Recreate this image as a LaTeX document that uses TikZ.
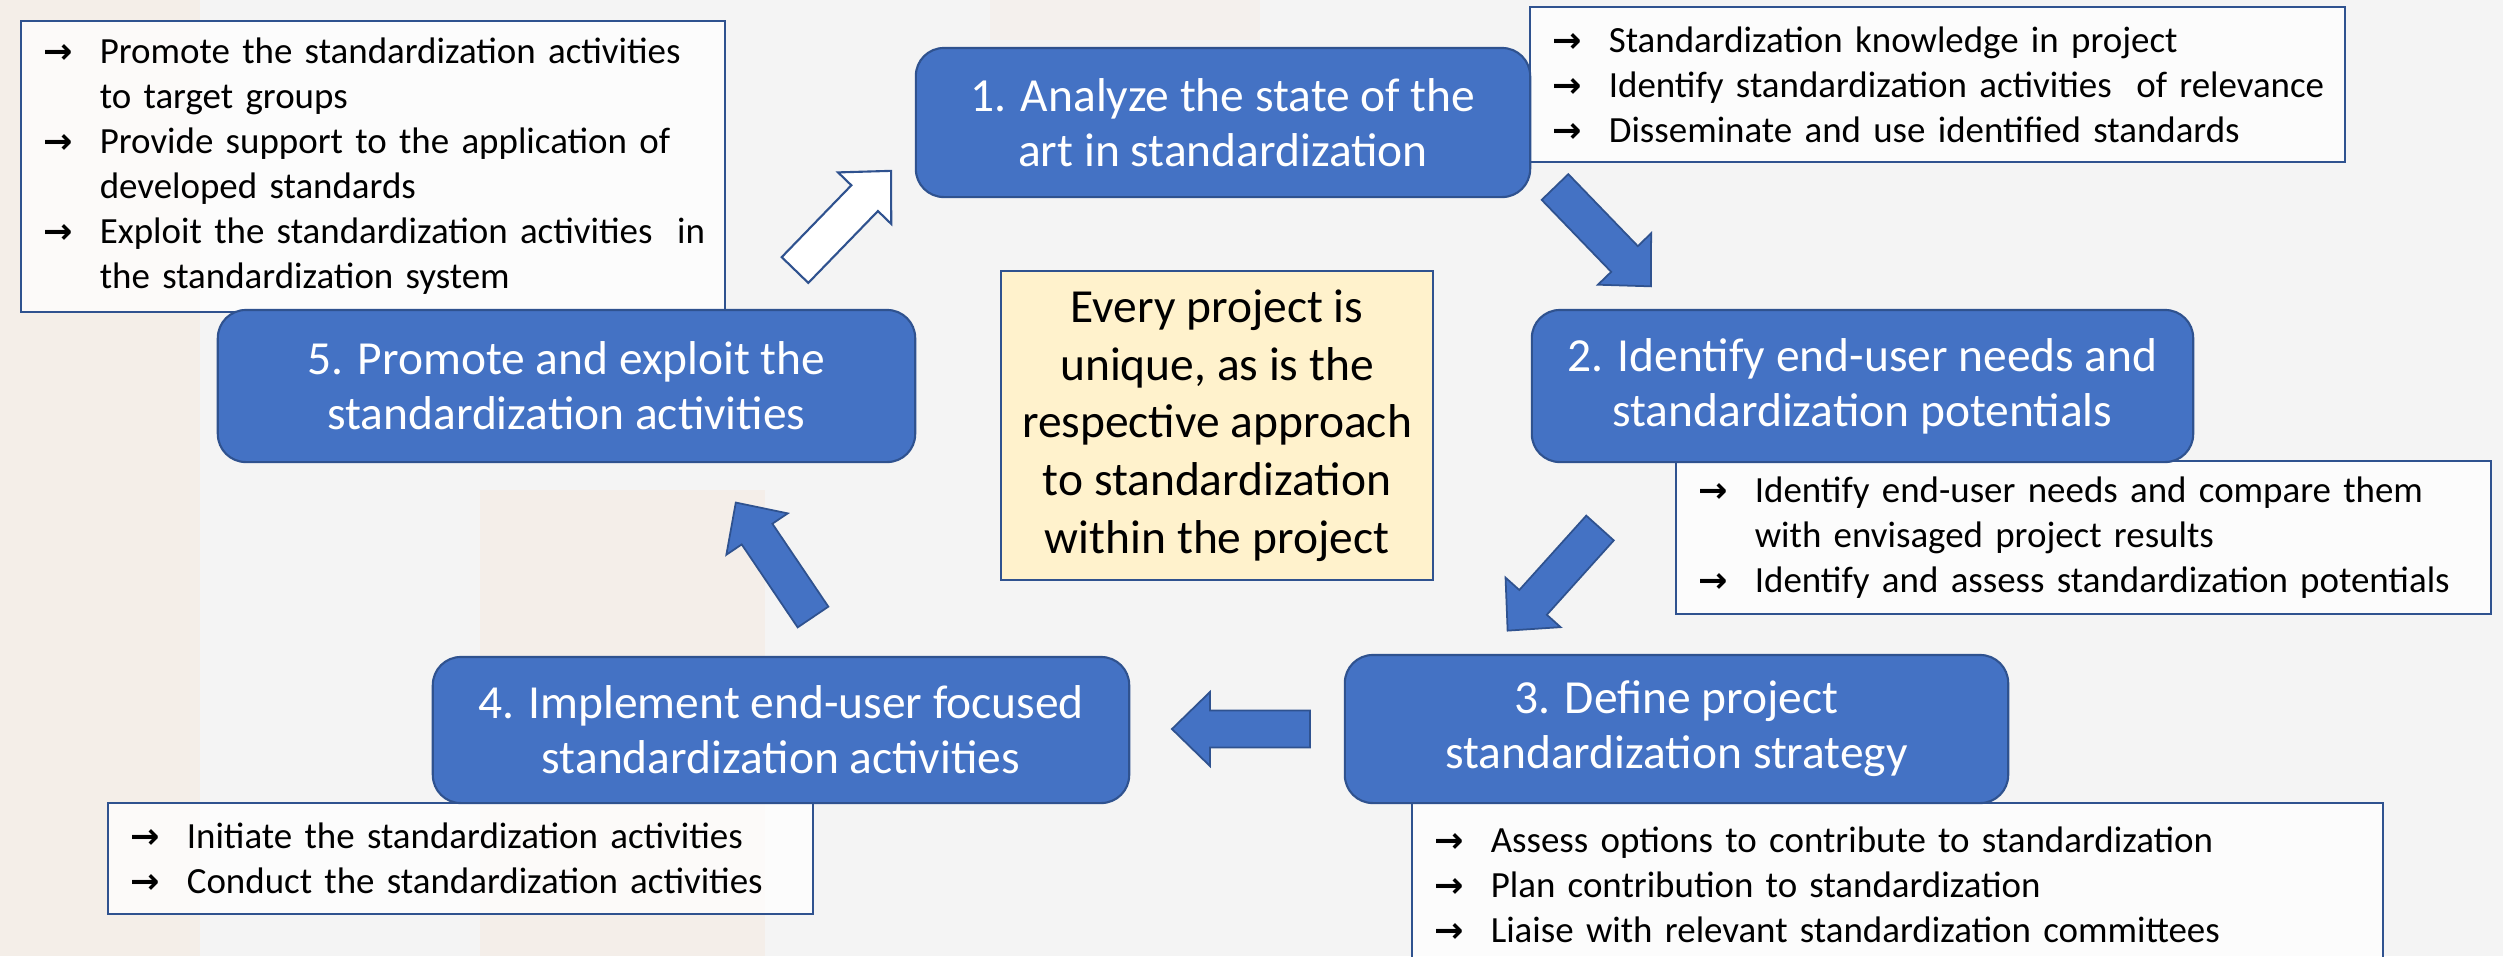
\documentclass[tikz,border=0pt]{standalone}
\usepackage{fontspec}
\setmainfont{Carlito}
\newfontfamily\symfont{DejaVu Sans}
\usetikzlibrary{positioning}

\definecolor{boxblue}{HTML}{4472C4}
\definecolor{edgeblue}{HTML}{2F528F}
\definecolor{notecream}{HTML}{FFF2CC}
\definecolor{pagegray}{HTML}{F4F4F4}
\definecolor{peach}{HTML}{F5E3D2}

\newcommand{\itemarrow}{\makebox[0.56cm][l]{\symfont\bfseries\fontsize{10}{10}\selectfont →}}
\newcommand{\itm}[1]{\mbox{\itemarrow #1}}
\newcommand{\cnt}[1]{\mbox{\hspace*{0.56cm}#1}}
\newcommand{\blockarrow}[3]{%
  \filldraw[#1, shift={(#2)}, rotate=#3]
    (0cm,-0.185cm) -- (1.0cm,-0.185cm) -- (1.0cm,-0.37cm) -- (1.38cm,0cm)
    -- (1.0cm,0.37cm) -- (1.0cm,0.185cm) -- (0cm,0.185cm) -- cycle;}

\tikzset{
  stage/.style={draw=edgeblue, line width=0.6pt, fill=boxblue, rounded corners=0.28cm,
    text=white, align=center, font=\fontsize{13.5}{15.6}\selectfont},
  note/.style={draw=edgeblue, line width=0.6pt, fill=white, fill opacity=0.75, text opacity=1,
    inner xsep=0.23cm, align=left, font=\fontsize{10.5}{12.8}\selectfont},
  centre/.style={draw=edgeblue, line width=0.6pt, fill=notecream, align=center,
    font=\fontsize{13.5}{16.4}\selectfont},
  fullarrow/.style={fill=boxblue, draw=edgeblue, line width=0.5pt},
  hollowarrow/.style={fill=white, draw=edgeblue, line width=0.6pt}
}

\begin{document}
\begin{tikzpicture}[x=0.01cm, y=-0.01cm]
  % background
  \useasboundingbox (0,0) rectangle (2503,956);
  \fill [pagegray] (0,0) rectangle (2503,956);
  \fill [peach, opacity=0.35] (0,0) rectangle (200,956);
  \fill [peach, opacity=0.3] (480,490) rectangle (765,956);
  \fill [peach, opacity=0.2] (990,0) rectangle (1260,40);

  % info boxes
  \node [note, text width=6.58cm, minimum height=2.91cm] (n5) at (373,166.5)
    {\itm{Promote the standardization activities}\\
     \cnt{to target groups}\\
     \itm{Provide support to the application of}\\
     \cnt{developed standards}\\
     \itm{Exploit the standardization activities\ \ in}\\
     \cnt{the standardization system}};
  \node [note, text width=7.69cm, minimum height=1.55cm] (n1) at (1937.5,84.5)
    {\itm{Standardization knowledge in project}\\
     \itm{Identify standardization activities\ \ of relevance}\\
     \itm{Disseminate and use identified standards}};
  \node [note, text width=7.69cm, minimum height=1.53cm] (n2) at (2083.5,537.5)
    {\itm{Identify end-user needs and compare them}\\
     \cnt{with envisaged project results}\\
     \itm{Identify and assess standardization potentials}};
  \node [note, text width=9.25cm, minimum height=1.63cm] (n3) at (1897.5,884.5)
    {\itm{Assess options to contribute to standardization}\\
     \itm{Plan contribution to standardization}\\
     \itm{Liaise with relevant standardization committees}};
  \node [note, text width=6.59cm, minimum height=1.11cm] (n4) at (460.5,858.5)
    {\itm{Initiate the standardization activities}\\
     \itm{Conduct the standardization activities}};

  % stages
  \node [stage, minimum width=6.14cm, minimum height=1.49cm] (s1) at (1223,122.5)
    {1. Analyze the state of the\\art in standardization};
  \node [stage, minimum width=6.61cm, minimum height=1.52cm] (s2) at (1862.5,386)
    {2. Identify end-user needs and\\standardization potentials};
  \node [stage, minimum width=6.63cm, minimum height=1.48cm] (s3) at (1676.5,729)
    {3. Define project\\standardization strategy};
  \node [stage, minimum width=6.96cm, minimum height=1.46cm] (s4) at (781,730)
    {4. Implement end-user focused\\standardization activities};
  \node [stage, minimum width=6.97cm, minimum height=1.52cm] (s5) at (566.5,386)
    {5. Promote and exploit the\\standardization activities};

  \node [centre, minimum width=4.32cm, minimum height=3.09cm] (mid) at (1217,425.5)
    {Every project is\\unique, as is the\\respective approach\\to standardization\\within the project};

  % block arrows
  \coordinate (t51) at (795,270);
  \coordinate (t12) at (1555,187);
  \coordinate (t23) at (1600,528);
  \coordinate (t34) at (1310,729);
  \coordinate (t45) at (813,617);
  \blockarrow{hollowarrow}{t51}{45.9}
  \blockarrow{fullarrow}{t12}{-46}
  \blockarrow{fullarrow}{t23}{228}
  \blockarrow{fullarrow}{t34}{180}
  \blockarrow{fullarrow}{t45}{124}
\end{tikzpicture}
\end{document}
